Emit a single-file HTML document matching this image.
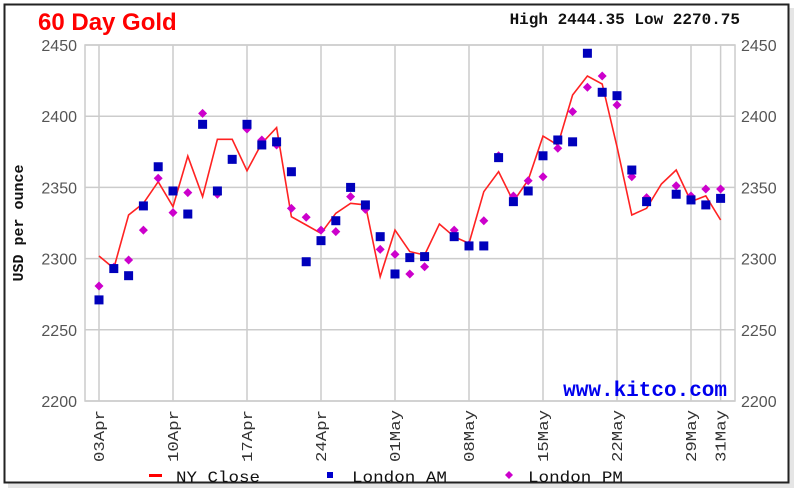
<!DOCTYPE html>
<html><head><meta charset="utf-8"><style>
html,body{margin:0;padding:0;background:#fff;}
svg{display:block;}
</style></head><body>
<svg id="chart" width="800" height="495" xmlns="http://www.w3.org/2000/svg">
  <rect x="8" y="8" width="786" height="480" fill="#ccc" opacity="0.5"/>
  <rect x="4.5" y="4.5" width="784" height="478" fill="#fff" stroke="#222" stroke-width="2"/>
  <text x="38" y="30" font-family="Liberation Sans, sans-serif" font-weight="bold" font-size="24" fill="#ff0000">60 Day Gold</text>
  <text x="740" y="24" text-anchor="end" font-family="Liberation Mono, monospace" font-weight="bold" font-size="16" fill="#111">High 2444.35 Low 2270.75</text>
  <g id="grid"></g>
  <rect x="85" y="45" width="650" height="356" fill="none" stroke="#ccc" stroke-width="1.5"/>
  <g id="series"></g>
  <text x="727" y="396" text-anchor="end" font-family="Liberation Mono, monospace" font-weight="bold" font-size="21" fill="#0000ee">www.kitco.com</text>
  <text transform="translate(23,223) rotate(-90)" text-anchor="middle" font-family="Liberation Mono, monospace" font-weight="bold" font-size="15" fill="#111">USD per ounce</text>
  <g>
    <rect x="149" y="474" width="13" height="3" fill="#ff0000"/>
    <text x="176" y="482" textLength="84" lengthAdjust="spacingAndGlyphs" font-family="Liberation Mono, monospace" font-size="16" fill="#111">NY Close</text>
    <rect x="327" y="472" width="6" height="6" fill="#0000cc"/>
    <text x="352" y="482" textLength="95" lengthAdjust="spacingAndGlyphs" font-family="Liberation Mono, monospace" font-size="16" fill="#111">London AM</text>
    <polygon points="509,471 513,475 509,479 505,475" fill="#cc00cc"/>
    <text x="528" y="482" textLength="95" lengthAdjust="spacingAndGlyphs" font-family="Liberation Mono, monospace" font-size="16" fill="#111">London PM</text>
  </g>
</svg>
<script>
const nyClose = [2301.8,2293.2,2330.6,2338.8,2354,2336.5,2372,2343.5,2383.8,2383.8,2361.7,2381,2392,2329.4,2323.6,2317.8,2331.8,2338.8,2337.7,2287.3,2320,2304.9,2302.5,2324.3,2315.4,2310.7,2347,2361,2340,2355.2,2386,2379.8,2414.9,2428.2,2422.6,2378.6,2330.6,2335.3,2352.4,2362.2,2340,2344,2327.1];
const londonAM = [2271,2293,2288,2337,2364.5,2347.5,2331.3,2394.3,2347.5,2369.7,2394.3,2379.8,2382,2361,2297.8,2312.6,2326.6,2350,2337.7,2315.4,2289.2,2300.7,2301.4,null,2315.4,2308.9,2308.9,2370.9,2340,2347.5,2372.2,2383.3,2382,2444.2,2416.8,2414.4,2362.2,2340,null,2345.2,2341.2,2337.7,2342.3];
const londonPM = [2280.8,2293.9,2299,2320,2356.4,2332.3,2346.3,2402,2345.2,2369.7,2391,2383.3,2379.8,2335.3,2329,2320,2318.9,2343.5,2334.6,2306.5,2303,2289.2,2294.3,null,2320,2309.6,2326.6,2372.2,2344,2354.7,2357.5,2377.5,2403.2,2420.3,2428.2,2407.9,2357.5,2342.8,null,2351.2,2344,2348.9,2348.9];
const yTicks = [2200,2250,2300,2350,2400,2450];
const xTickLabels = ["03Apr","10Apr","17Apr","24Apr","01May","08May","15May","22May","29May","31May"];
const xTickIndex = [0,5,10,15,20,25,30,35,40,42];

const NS = "http://www.w3.org/2000/svg";
const X0 = 99, DX = 14.8, YTOP = 45, YBOT = 401, VMIN = 2200, VMAX = 2450;
const xs = i => X0 + i * DX;
const ys = v => YBOT - (v - VMIN) / (VMAX - VMIN) * (YBOT - YTOP);
function mk(tag, attrs, parent){const e=document.createElementNS(NS,tag);for(const k in attrs)e.setAttribute(k,attrs[k]);parent.appendChild(e);return e;}
const grid = document.getElementById('grid');
const series = document.getElementById('series');
const svg = document.getElementById('chart');

yTicks.forEach(v => {
  const l = mk('line',{x1:85,x2:735,y1:ys(v),y2:ys(v),stroke:'#ccc','stroke-width':1.5},grid);
  
  
  const t1 = mk('text',{x:77,y:ys(v)+6,'text-anchor':'end','font-family':'Liberation Sans, sans-serif','font-size':16,fill:'#555'},svg);
  t1.textContent = v;
  
  
  const t2 = mk('text',{x:741,y:ys(v)+6,'font-family':'Liberation Sans, sans-serif','font-size':16,fill:'#555'},svg);
  t2.textContent = v;
  
  
});
xTickIndex.forEach((idx, k) => {
  const x = xs(idx);
  const l = mk('line',{x1:x,x2:x,y1:YTOP,y2:YBOT,stroke:'#ccc','stroke-width':1.5},grid);
  
  
  const t = mk('text',{transform:`translate(${x+5},${410}) rotate(-90)`,'text-anchor':'end',textLength:52,lengthAdjust:'spacingAndGlyphs','font-family':'Liberation Mono, monospace','font-size':15,fill:'#333'},svg);
  t.textContent = xTickLabels[k];
  
  
});
const pts = nyClose.map((v,i)=>xs(i).toFixed(1)+','+ys(v).toFixed(1)).join(' ');
const line = mk('polyline',{points:pts,fill:'none',stroke:'#ff2222','stroke-width':1.6},series);


londonPM.forEach((v,i)=>{
  if(v==null) return;
  const x=xs(i), y=ys(v);
  const p = mk('polygon',{points:`${x},${y-4.5} ${x+4.5},${y} ${x},${y+4.5} ${x-4.5},${y}`,fill:'#cc00cc'},series);
  
  
});
londonAM.forEach((v,i)=>{
  if(v==null) return;
  const r = mk('rect',{x:xs(i)-4.5,y:ys(v)-4.5,width:9,height:9,fill:'#0000bb'},series);
  
  
});
</script>
</body></html>
